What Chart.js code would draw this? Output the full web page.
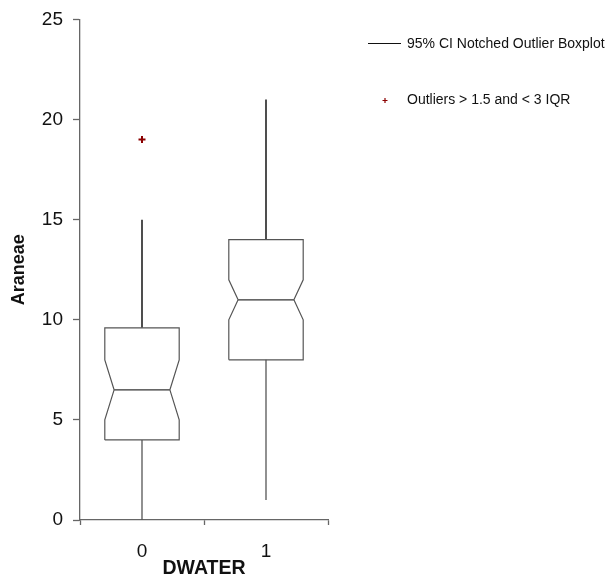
<!DOCTYPE html>
<html>
<head>
<meta charset="utf-8">
<script src="https://cdn.jsdelivr.net/npm/chart.js@4"></script>
<style>
  html, body { margin: 0; padding: 0; background: #fff; }
  #wrap { width: 610px; height: 580px; }
</style>
</head>
<body>
<div id="wrap"><canvas id="box"></canvas></div>
<script>
// Boxplot summary per DWATER group
const categories = ['0', '1'];
const q1 = [4, 8];
const median = [6.5, 11];
const q3 = [9.6, 14];
const notchLo = [5, 10];
const notchHi = [8, 12];
const whiskerLo = [0, 1];
const whiskerHi = [15, 21];
const outliers = [[19], []];
const yTicks = [0, 5, 10, 15, 20, 25];

const BOX_HALF = 0.3;     // half box width in x units
const NOTCH_HALF = 0.225; // half width at the median

const boxColor = '#555';
const axisColor = '#666';
const textColor = '#111';

function lineSet(points, color, width) {
  return {
    type: 'scatter',
    data: points,
    showLine: true,
    borderColor: color,
    borderWidth: width,
    pointRadius: 0,
    tension: 0,
    fill: false
  };
}

const datasets = [];
categories.forEach((c, i) => {
  const x = i;
  // notched box outline
  datasets.push(lineSet([
    { x: x - BOX_HALF, y: q1[i] },
    { x: x - BOX_HALF, y: notchLo[i] },
    { x: x - NOTCH_HALF, y: median[i] },
    { x: x - BOX_HALF, y: notchHi[i] },
    { x: x - BOX_HALF, y: q3[i] },
    { x: x + BOX_HALF, y: q3[i] },
    { x: x + BOX_HALF, y: notchHi[i] },
    { x: x + NOTCH_HALF, y: median[i] },
    { x: x + BOX_HALF, y: notchLo[i] },
    { x: x + BOX_HALF, y: q1[i] },
    { x: x - BOX_HALF, y: q1[i] }
  ], boxColor, 1.2));
  // median
  datasets.push(lineSet([
    { x: x - NOTCH_HALF, y: median[i] },
    { x: x + NOTCH_HALF, y: median[i] }
  ], '#333', 1.2));
  // whiskers
  datasets.push(lineSet([{ x: x, y: q3[i] }, { x: x, y: whiskerHi[i] }], '#222', 1.6));
  datasets.push(lineSet([{ x: x, y: whiskerLo[i] }, { x: x, y: q1[i] }], '#555', 1.3));
  // outliers
  datasets.push({
    type: 'scatter',
    data: outliers[i].map(v => ({ x: x, y: v })),
    pointStyle: 'cross',
    pointRadius: 3.5,
    borderColor: '#8b0000',
    borderWidth: 2
  });
});

// legend drawn at the right of the plot
const legendPlugin = {
  id: 'sideLegend',
  afterDraw(chart) {
    const ctx = chart.ctx;
    ctx.save();
    ctx.strokeStyle = '#111';
    ctx.lineWidth = 1;
    ctx.beginPath();
    ctx.moveTo(368, 43.5);
    ctx.lineTo(401, 43.5);
    ctx.stroke();
    ctx.strokeStyle = '#8b0000';
    ctx.lineWidth = 1.2;
    ctx.beginPath();
    ctx.moveTo(382.5, 100.5);
    ctx.lineTo(387.5, 100.5);
    ctx.moveTo(385, 98);
    ctx.lineTo(385, 103);
    ctx.stroke();
    ctx.fillStyle = textColor;
    ctx.font = '14px "Liberation Sans", Arial, sans-serif';
    ctx.textBaseline = 'middle';
    ctx.textAlign = 'left';
    ctx.fillText('95% CI Notched Outlier Boxplot', 407, 44);
    ctx.fillText('Outliers > 1.5 and < 3 IQR', 407, 100);
    ctx.restore();
  }
};

Chart.defaults.font.family = '"Liberation Sans", Arial, sans-serif';
Chart.defaults.color = textColor;

new Chart(document.getElementById('box'), {
  type: 'scatter',
  data: { datasets: datasets },
  options: {
    responsive: true,
    maintainAspectRatio: false,
    animation: false,
    layout: { padding: { top: 19, right: 282, bottom: 0, left: 0 } },
    plugins: {
      legend: { display: false },
      tooltip: { enabled: false }
    },
    scales: {
      x: {
        type: 'linear',
        min: -0.5,
        max: 1.5,
        afterBuildTicks: scale => {
          scale.ticks = [-0.5, 0, 0.5, 1, 1.5].map(v => ({ value: v }));
        },
        afterFit: scale => { scale.height = 60; },
        border: { color: axisColor, width: 1.3 },
        grid: {
          drawOnChartArea: false,
          tickLength: 5,
          tickWidth: 1.3,
          tickColor: ctx => (ctx.tick && Number.isInteger(ctx.tick.value)) ? 'rgba(0,0,0,0)' : axisColor
        },
        ticks: {
          padding: 17,
          maxRotation: 0,
          autoSkip: false,
          font: { size: 19, lineHeight: 1 },
          callback: v => {
            const idx = categories.indexOf(String(v));
            return Number.isInteger(v) && idx >= 0 ? categories[idx] : '';
          }
        },
        title: {
          display: true,
          text: 'DWATER',
          font: { size: 19.5, weight: 'bold' },
          padding: { top: 0, bottom: 0 }
        }
      },
      y: {
        min: 0,
        max: 25,
        afterBuildTicks: scale => {
          scale.ticks = yTicks.map(v => ({ value: v }));
        },
        afterFit: scale => { scale.width = 80; },
        border: { color: axisColor, width: 1.3 },
        grid: {
          drawOnChartArea: false,
          tickLength: 7,
          tickWidth: 1.3,
          tickColor: axisColor
        },
        ticks: {
          padding: 10,
          font: { size: 19, lineHeight: 1 }
        },
        title: {
          display: true,
          text: 'Araneae',
          font: { size: 18, weight: 'bold' },
          padding: { top: 8, bottom: 10 }
        }
      }
    }
  },
  plugins: [legendPlugin]
});
</script>
</body>
</html>
